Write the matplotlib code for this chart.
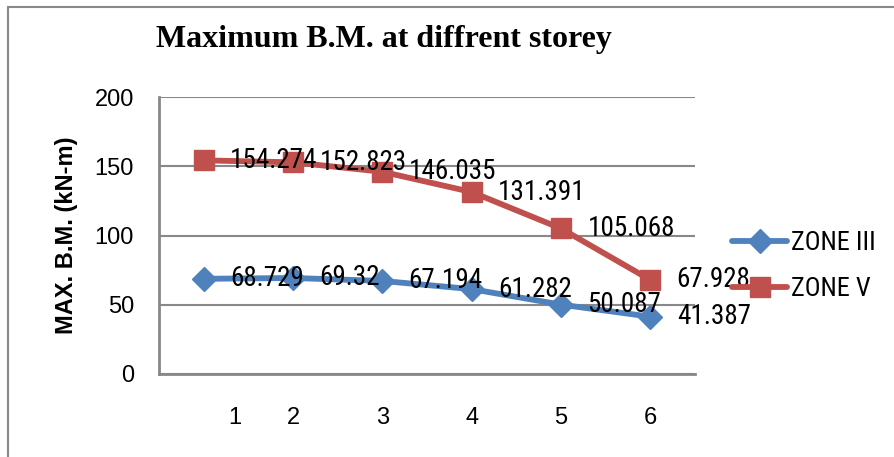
import matplotlib
matplotlib.use("Agg")
import matplotlib.pyplot as plt
import matplotlib.transforms as mtransforms
from matplotlib.patches import Rectangle
from matplotlib import font_manager

storeys = ["1", "2", "3", "4", "5", "6"]
zone3 = [68.729, 69.32, 67.194, 61.282, 50.087, 41.387]
zone5 = [154.274, 152.823, 146.035, 131.391, 105.068, 67.928]
yticks = [0, 50, 100, 150, 200]
title = "Maximum B.M. at diffrent storey"
ylabel = "MAX. B.M. (kN-m)"

names = {f.name for f in font_manager.fontManager.ttflist}
narrow = "Liberation Sans"
for cand in ["Liberation Sans Narrow", "Arial Narrow", "Roboto Condensed",
             "PT Sans Narrow", "Archivo Narrow", "Open Sans Condensed"]:
    if cand in names:
        narrow = cand
        break

BLUE = "#4F81BD"
RED = "#C0504D"
GRID = "#888888"

fig = plt.figure(figsize=(8.95, 4.57), dpi=100)
W, H = 895, 457
ax = fig.add_axes([159 / W, (H - 374) / H, (695 - 159) / W, (374 - 97) / H])

# outer frame
fig.patches.append(Rectangle((8 / W, -0.1), 1.2, (H - 7) / H + 0.1,
                             transform=fig.transFigure, fill=False,
                             edgecolor=GRID, linewidth=1.5))

x = [i + 0.5 for i in range(len(storeys))]
ax.plot(x, zone3, color=BLUE, lw=4.2, marker="D", ms=12, mec=BLUE, mfc=BLUE,
        label="ZONE III", solid_capstyle="round", zorder=3)
ax.plot(x, zone5, color=RED, lw=4.2, marker="s", ms=14, mec=RED, mfc=RED,
        label="ZONE V", solid_capstyle="round", zorder=3)

for xi, v in zip(x, zone3):
    ax.annotate(f"{v:g}", (xi, v), xytext=(19, 0), textcoords="offset points",
                ha="left", va="center", fontsize=19.5, family=narrow, zorder=4)
for xi, v in zip(x, zone5):
    ax.annotate(f"{v:g}", (xi, v), xytext=(19, 0), textcoords="offset points",
                ha="left", va="center", fontsize=19.5, family=narrow, zorder=4)

ax.set_xlim(0, len(storeys))
ax.set_ylim(0, 200)
ax.set_yticks(yticks)
ax.set_xticks(x)
ax.set_xticklabels(storeys)
ax.yaxis.grid(True, color=GRID, lw=1.5)
ax.set_axisbelow(True)
for s in ["top", "right"]:
    ax.spines[s].set_visible(False)
for s in ["left", "bottom"]:
    ax.spines[s].set_color(GRID)
    ax.spines[s].set_linewidth(2)
ax.tick_params(axis="both", length=0, labelsize=17)
ax.tick_params(axis="x", pad=24)
ax.tick_params(axis="y", pad=18)
for lab in ax.get_xticklabels() + ax.get_yticklabels():
    lab.set_family("Liberation Sans")
first = ax.get_xticklabels()[0]
first.set_transform(first.get_transform() + mtransforms.ScaledTranslation(31 / 100, 0, fig.dpi_scale_trans))

ax.set_ylabel(ylabel, fontsize=17, fontweight="bold", family="Liberation Sans", labelpad=12)

fig.text(384 / W, (H - 40) / H, title, ha="center", va="center",
         fontsize=23, fontweight="bold", family="Liberation Serif")

leg = ax.legend(loc="center left", bbox_to_anchor=(1.0, 0.39), frameon=False,
                prop={"family": narrow, "size": 19}, handlelength=2.1,
                handletextpad=0.15, labelspacing=0.85, borderaxespad=1.0)

fig.savefig("out.png", dpi=100)
